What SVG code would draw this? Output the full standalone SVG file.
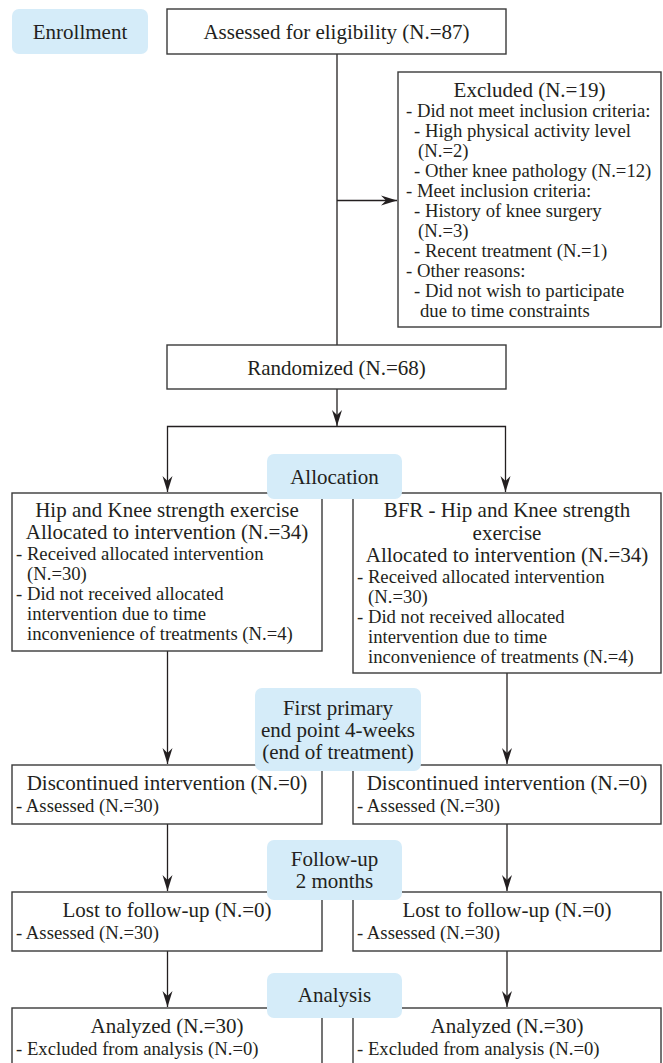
<svg xmlns="http://www.w3.org/2000/svg" width="663" height="1063" viewBox="0 0 663 1063">
<defs>
<marker id="arr" viewBox="-17 -6 18 12" refX="0" refY="0" markerWidth="18" markerHeight="12" markerUnits="userSpaceOnUse" orient="auto">
<path d="M0,0 L-16,-5 L-11,0 L-16,5 z" fill="#231f20"/>
</marker>
<style>
.box{fill:#fff;stroke:#3a3a3a;stroke-width:1.4}
.pill{fill:#d5ecf9;stroke:none}
.t{font-family:"Liberation Serif","Times New Roman",serif;font-size:21px;fill:#231f20}
.c{text-anchor:middle}
.b{font-family:"Liberation Serif","Times New Roman",serif;font-size:18.7px;fill:#231f20}
.ln{fill:none;stroke:#231f20;stroke-width:1.3}
</style>
</defs>
<rect width="663" height="1063" fill="#fff"/>

<g id="connectors">
<path class="ln" d="M337,54 V345"/>
<path class="ln" d="M337,200.5 H397" marker-end="url(#arr)"/>
<path class="ln" d="M337,389 V426" marker-end="url(#arr)"/>
<path class="ln" d="M337,426.5 H167.5 V492" marker-end="url(#arr)"/>
<path class="ln" d="M337,426.5 H505.5 V492" marker-end="url(#arr)"/>
<path class="ln" d="M167.5,651 V764" marker-end="url(#arr)"/>
<path class="ln" d="M507,673 V764" marker-end="url(#arr)"/>
<path class="ln" d="M167.5,824 V891" marker-end="url(#arr)"/>
<path class="ln" d="M507,824 V891" marker-end="url(#arr)"/>
<path class="ln" d="M167.5,951 V1007" marker-end="url(#arr)"/>
<path class="ln" d="M507,951 V1007" marker-end="url(#arr)"/>
</g>

<g id="enrollment">
<rect class="pill" x="12" y="9" width="136" height="45" rx="7"/>
<text class="t c" x="80" y="39">Enrollment</text>
</g>

<g id="assessed">
<rect class="box" x="167" y="9" width="339" height="45"/>
<text class="t c" x="336.5" y="39">Assessed for eligibility (N.=87)</text>
</g>

<g id="excluded">
<rect class="box" x="398" y="72" width="263" height="255"/>
<text class="t c" x="529.5" y="97">Excluded (N.=19)</text>
<text class="b" x="406" y="117">- Did not meet inclusion criteria:</text>
<text class="b" x="414" y="137">- High physical activity level</text>
<text class="b" x="418" y="157">(N.=2)</text>
<text class="b" x="414" y="177">- Other knee pathology (N.=12)</text>
<text class="b" x="406" y="197">- Meet inclusion criteria:</text>
<text class="b" x="414" y="217">- History of knee surgery</text>
<text class="b" x="418" y="237">(N.=3)</text>
<text class="b" x="414" y="257">- Recent treatment (N.=1)</text>
<text class="b" x="406" y="277">- Other reasons:</text>
<text class="b" x="414" y="297">- Did not wish to participate</text>
<text class="b" x="420" y="317">due to time constraints</text>
</g>

<g id="randomized">
<rect class="box" x="167" y="345" width="339" height="44"/>
<text class="t c" x="336.5" y="375">Randomized (N.=68)</text>
</g>

<g id="alloc-left">
<rect class="box" x="12" y="493" width="310" height="158"/>
<text class="t c" x="167" y="517">Hip and Knee strength exercise</text>
<text class="t c" x="167" y="539">Allocated to intervention (N.=34)</text>
<text class="b" x="16" y="560">- Received allocated intervention</text>
<text class="b" x="27" y="580">(N.=30)</text>
<text class="b" x="16" y="600">- Did not received allocated</text>
<text class="b" x="27" y="620">intervention due to time</text>
<text class="b" x="27" y="640">inconvenience of treatments (N.=4)</text>
</g>

<g id="alloc-right">
<rect class="box" x="353" y="493" width="308" height="180"/>
<text class="t c" x="507" y="517">BFR - Hip and Knee strength</text>
<text class="t c" x="507" y="540">exercise</text>
<text class="t c" x="507" y="562">Allocated to intervention (N.=34)</text>
<text class="b" x="357" y="583">- Received allocated intervention</text>
<text class="b" x="368" y="603">(N.=30)</text>
<text class="b" x="357" y="623">- Did not received allocated</text>
<text class="b" x="368" y="643">intervention due to time</text>
<text class="b" x="368" y="663">inconvenience of treatments (N.=4)</text>
</g>

<g id="disc-left">
<rect class="box" x="12" y="765" width="310" height="59"/>
<text class="t c" x="167" y="790">Discontinued intervention (N.=0)</text>
<text class="b" x="16" y="812">- Assessed (N.=30)</text>
</g>

<g id="disc-right">
<rect class="box" x="353" y="765" width="308" height="59"/>
<text class="t c" x="507" y="790">Discontinued intervention (N.=0)</text>
<text class="b" x="357" y="812">- Assessed (N.=30)</text>
</g>

<g id="lost-left">
<rect class="box" x="12" y="892" width="310" height="59"/>
<text class="t c" x="167" y="917">Lost to follow-up (N.=0)</text>
<text class="b" x="16" y="939">- Assessed (N.=30)</text>
</g>

<g id="lost-right">
<rect class="box" x="353" y="892" width="308" height="59"/>
<text class="t c" x="507" y="917">Lost to follow-up (N.=0)</text>
<text class="b" x="357" y="939">- Assessed (N.=30)</text>
</g>

<g id="analyzed-left">
<rect class="box" x="12" y="1008" width="310" height="70"/>
<text class="t c" x="167" y="1033">Analyzed (N.=30)</text>
<text class="b" x="16" y="1055">- Excluded from analysis (N.=0)</text>
</g>

<g id="analyzed-right">
<rect class="box" x="353" y="1008" width="308" height="70"/>
<text class="t c" x="507" y="1033">Analyzed (N.=30)</text>
<text class="b" x="357" y="1055">- Excluded from analysis (N.=0)</text>
</g>

<g id="allocation">
<rect class="pill" x="267" y="454" width="135" height="45" rx="7"/>
<text class="t c" x="334.5" y="484">Allocation</text>
</g>

<g id="first-primary">
<rect class="pill" x="255" y="688" width="166" height="83" rx="7"/>
<text class="t c" x="338" y="715">First primary</text>
<text class="t c" x="338" y="737">end point 4-weeks</text>
<text class="t c" x="338" y="759">(end of treatment)</text>
</g>

<g id="follow-up">
<rect class="pill" x="267" y="840" width="135" height="60" rx="7"/>
<text class="t c" x="334.5" y="866">Follow-up</text>
<text class="t c" x="334.5" y="888">2 months</text>
</g>

<g id="analysis">
<rect class="pill" x="267" y="973" width="135" height="45" rx="7"/>
<text class="t c" x="334.5" y="1002">Analysis</text>
</g>
</svg>
